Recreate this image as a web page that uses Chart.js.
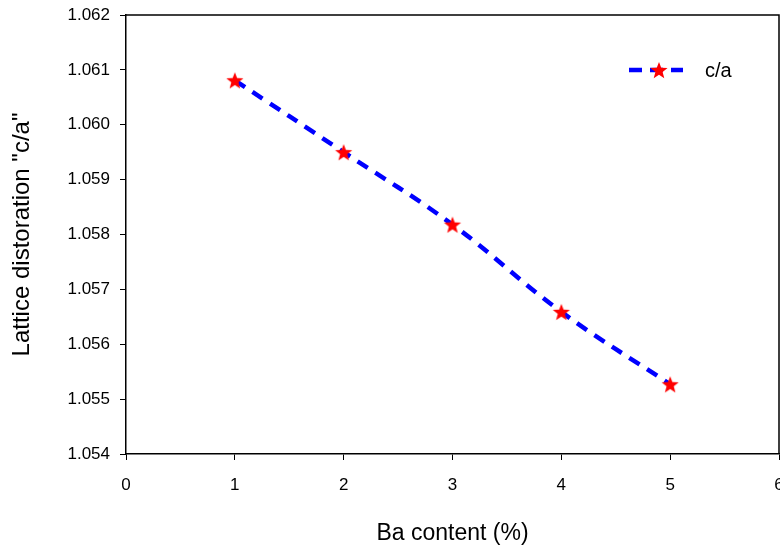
<!DOCTYPE html>
<html>
<head>
<meta charset="utf-8">
<script src="https://cdn.jsdelivr.net/npm/chart.js@4"></script>
<style>
  html, body { margin: 0; padding: 0; background: #fff; overflow: hidden; }
</style>
</head>
<body>
<canvas id="chart" width="780" height="551"></canvas>
<script>
// data
const baContent = [1, 2, 3, 4, 5];
const caRatio = [1.06081, 1.05950, 1.05818, 1.05659, 1.05527];
const seriesLabel = "c/a";
const xTitle = "Ba content (%)";
const yTitle = 'Lattice distoration "c/a"';

const FONT = "'Liberation Sans', Arial, sans-serif";

// filled red star used as the point marker
function makeStar(R) {
  const c = document.createElement("canvas");
  const s = Math.ceil(R * 2 + 2);
  c.width = s; c.height = s;
  const g = c.getContext("2d");
  const cx = s / 2, cy = s / 2 + R * 0.1;
  const r = R * 0.42;
  g.beginPath();
  for (let i = 0; i < 10; i++) {
    const rad = i % 2 === 0 ? R : r;
    const a = -Math.PI / 2 + i * Math.PI / 5;
    const px = cx + rad * Math.cos(a), py = cy + rad * Math.sin(a);
    i === 0 ? g.moveTo(px, py) : g.lineTo(px, py);
  }
  g.closePath();
  g.fillStyle = "#ff0000";
  g.fill();
  return c;
}
const star = makeStar(9);

// top/right frame lines + legend inside the plot
const framePlugin = {
  id: "frame",
  afterDraw(chart) {
    const { ctx, chartArea: a } = chart;
    ctx.save();
    ctx.strokeStyle = "#000";
    ctx.lineWidth = 1.5;
    ctx.beginPath();
    ctx.moveTo(a.left, a.top);
    ctx.lineTo(a.right, a.top);
    ctx.lineTo(a.right, a.bottom);
    ctx.stroke();

    // legend
    const ds = chart.data.datasets[0];
    const ly = 70;
    ctx.strokeStyle = ds.borderColor;
    ctx.lineWidth = ds.borderWidth;
    ctx.setLineDash([13, 8]);
    ctx.beginPath();
    ctx.moveTo(629, ly);
    ctx.lineTo(683, ly);
    ctx.stroke();
    ctx.setLineDash([]);
    ctx.drawImage(star, 659 - star.width / 2, ly - star.height / 2);
    ctx.fillStyle = "#000";
    ctx.font = "20px " + FONT;
    ctx.textBaseline = "middle";
    ctx.textAlign = "left";
    ctx.fillText(ds.label, 705, ly + 1);
    ctx.restore();
  }
};

new Chart(document.getElementById("chart"), {
  type: "line",
  data: {
    datasets: [
      {
        label: seriesLabel,
        data: baContent.map((x, i) => ({ x: x, y: caRatio[i] })),
        borderColor: "#0000ff",
        borderWidth: 4.5,
        borderDash: [12, 9],
        tension: 0.4,
        pointStyle: star,
        pointRadius: 9,
        fill: false,
      },
    ],
  },
  options: {
    responsive: false,
    animation: false,
    layout: { autoPadding: false, padding: { top: 15, right: 1, left: 0, bottom: 0 } },
    plugins: { legend: { display: false }, tooltip: { enabled: false } },
    scales: {
      x: {
        type: "linear",
        min: 0,
        max: 6,
        ticks: { stepSize: 1, color: "#000", font: { family: FONT, size: 17 }, padding: 15, maxRotation: 0 },
        grid: { drawOnChartArea: false, color: "#000", tickLength: 6 },
        border: { color: "#000", width: 1.5 },
        title: { display: true, text: xTitle, color: "#000", font: { family: FONT, size: 23 }, padding: { bottom: 4 } },
        afterFit(s) { s.height = 97; s.paddingLeft = 0; s.paddingRight = 0; },
      },
      y: {
        min: 1.054,
        max: 1.062,
        ticks: {
          stepSize: 0.001,
          color: "#000",
          font: { family: FONT, size: 17 },
          padding: 10,
          callback: (v) => Number(v).toFixed(3),
        },
        grid: { drawOnChartArea: false, color: "#000", tickLength: 6 },
        border: { color: "#000", width: 1.5 },
        title: { display: true, text: yTitle, color: "#000", font: { family: FONT, size: 24 }, padding: { top: 8 } },
        afterFit(s) { s.width = 126; s.paddingTop = 0; s.paddingBottom = 0; },
      },
    },
  },
  plugins: [framePlugin],
});
</script>
</body>
</html>
